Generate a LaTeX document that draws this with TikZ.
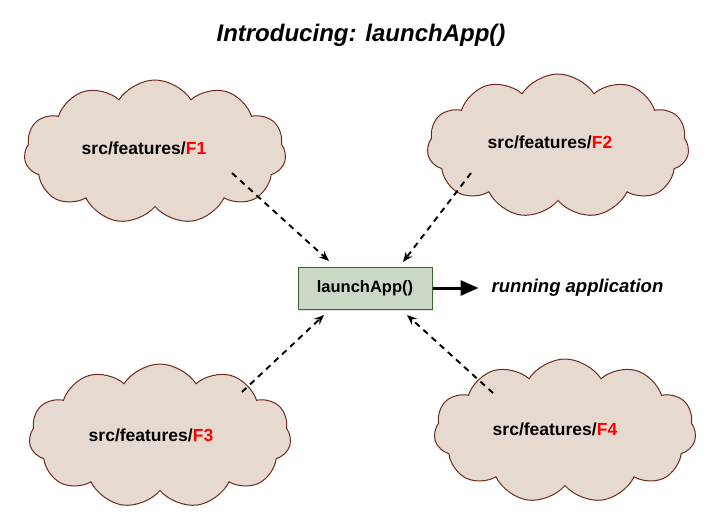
\documentclass[tikz,border=0pt]{standalone}
\usepackage{fontspec}
\setmainfont{Liberation Sans}
\usetikzlibrary{arrows.meta,positioning,shapes.symbols,shadows}

\definecolor{cloudfill}{HTML}{E6DAD0}
\definecolor{cloudline}{HTML}{6E2A1E}
\definecolor{appfill}{HTML}{CAD8C6}
\definecolor{appline}{HTML}{3E6130}

\newcommand{\feat}[1]{src/features/\textcolor{red}{#1}}

\begin{document}
\begin{tikzpicture}[
    x=1pt, y=-1pt,
    feature/.style={cloud, cloud puffs=11, cloud puff arc=115, aspect=1.8, draw=cloudline, line width=1pt, fill=cloudfill, minimum width=262pt, minimum height=144pt},
    featlabel/.style={inner sep=0pt, font=\fontsize{17.5}{20}\selectfont\bfseries},
    appbox/.style={rectangle, draw=appline, line width=1pt, fill=appfill, minimum width=134pt, minimum height=42pt, font=\fontsize{16.5}{19}\selectfont\bfseries, drop shadow={shadow xshift=1pt, shadow yshift=-1.5pt, opacity=0.25}},
    feed/.style={->, dashed, line width=1.9pt, dash pattern=on 6pt off 5pt},
    >={Stealth[length=10pt, width=8pt, inset=3.5pt]}
]
\useasboundingbox (0,0) rectangle (721,524);

\node[font=\fontsize{24}{28}\selectfont\bfseries\itshape] (title) at (361,35) {Introducing: launchApp()};

\node[feature] (f1) at (155,152) {};
\node[feature] (f2) at (558,146) {};
\node[feature] (f3) at (160,436) {};
\node[feature] (f4) at (565,431) {};
\node[featlabel] (f1lbl) at (144,148) {\feat{F1}};
\node[featlabel] (f2lbl) at (550,142) {\feat{F2}};
\node[featlabel] (f3lbl) at (151,435) {\feat{F3}};
\node[featlabel] (f4lbl) at (555,429) {\feat{F4}};

\node[appbox] (app) at (365,288) {launchApp()};
\node[font=\fontsize{18.5}{22}\selectfont\bfseries\itshape, inner sep=0pt, right=59pt of app.east, anchor=west] (run) {running application};

% dashed feeds into launchApp()
\coordinate (f1src) at (232,173);
\coordinate (f1dst) at (329,261);
\coordinate (f2src) at (471,173);
\coordinate (f2dst) at (403,262);
\coordinate (f3src) at (242,392);
\coordinate (f3dst) at (324,315);
\coordinate (f4src) at (493,393);
\coordinate (f4dst) at (407,315);

\draw[feed] (f1src) -- (f1dst);
\draw[feed] (f2src) -- (f2dst);
\draw[feed] (f3src) -- (f3dst);
\draw[feed] (f4src) -- (f4dst);

\draw[-{Triangle[length=18pt, width=15pt]}, line width=3pt] (app.east) -- ++(46,0) coordinate (runtip);

\end{tikzpicture}
\end{document}
